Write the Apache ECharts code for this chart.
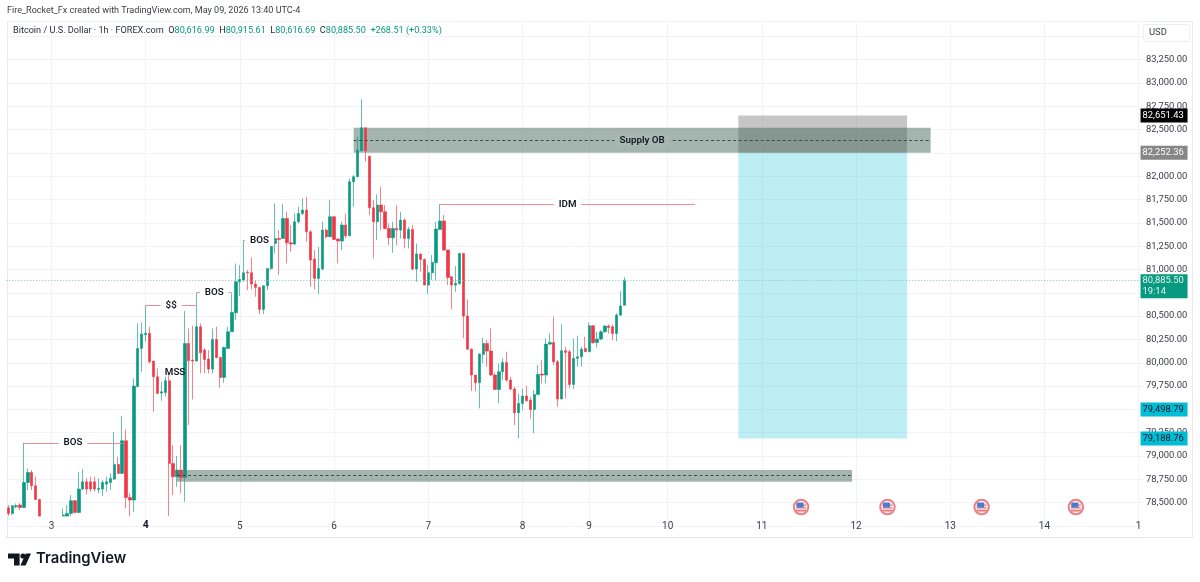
<!DOCTYPE html>
<html><head><meta charset="utf-8">
<style>html,body{margin:0;padding:0;background:#fff}#c{width:1200px;height:582px}</style>
<script src="https://cdn.jsdelivr.net/npm/echarts@6/dist/echarts.min.js"></script>
</head><body><div id="c"></div>
<script>
// [open, close, low, high], one row per hour; rows 9-13 sit below the visible pane
const candleValues = [
[78446,78385,78356,78474],[78385,78467,78367,78474],[78456,78467,78438,78492],[78474,78449,78421,78492],
[78449,78717,78449,79142],[78717,78824,78635,78867],[78824,78681,78635,78849],[78681,78535,78528,78778],
[78535,78356,78356,78535],['-','-','-','-'],['-','-','-','-'],['-','-','-','-'],['-','-','-','-'],['-','-','-','-'],
[78356,78367,78356,78438],[78356,78385,78356,78474],[78385,78521,78356,78581],[78521,78396,78385,78528],
[78396,78646,78385,78832],[78646,78724,78635,78860],[78724,78646,78589,78760],[78724,78646,78617,78778],
[78724,78646,78617,78778],[78642,78653,78599,78760],[78646,78717,78571,78742],[78699,78724,78617,78778],
[78717,78760,78635,78814],[78753,78910,78742,79260],[78910,78814,78814,78992],[78814,79164,78814,79428],
[79164,78556,78438,79285],[78556,78528,78356,78599],[78528,79750,78403,79832],[79743,80154,79743,80422],
[80154,80307,79904,80432],[80300,80315,80225,80618],[80315,80011,79993,80386],[80018,79850,79475,80018],
[79850,79671,79671,79939],[79675,79689,79593,79796],[79682,79807,79636,79850],[79807,78921,78356,79886],
[78921,78778,78581,79117],[78778,78849,78671,79000],[78849,78771,78599,79117],[78771,80207,78510,80554],
[80207,80022,79332,80368],[80029,80018,79607,80397],[80018,80386,80011,80754],[80386,80107,79886,80422],
[80136,80036,79886,80154],[80039,79932,79886,80136],[79932,80250,79886,80368],[80250,80057,80047,80386],
[80057,79843,79732,80064],[79843,80164,79786,80172],[80154,80332,80154,80386],[80332,80540,80332,80743],
[80536,80868,80457,81065],[80868,80893,80715,81047],[80886,80965,80868,81315],[80972,80965,80779,80993],
[80965,80843,80786,81129],[80843,80808,80708,80886],[80808,80572,80522,80815],[80572,80825,80522,80825],
[80825,81011,80779,81011],[81011,81279,80993,81333],[81279,81333,81172,81708],[81333,81322,80940,81422],
[81333,81547,81333,81701],[81547,81286,81065,81619],[81286,81272,81190,81476],[81272,81511,81261,81601],
[81511,81601,81494,81672],[81601,81637,81583,81762],[81637,81404,81297,81779],[81404,81101,80815,81422],
[81111,80904,80786,81208],[80904,81011,80736,81243],[81004,81422,80993,81511],[81422,81351,81333,81440],
[81351,81565,81351,81744],[81565,81322,81315,81572],[81326,81304,81065,81333],[81304,81476,81208,81511],
[81476,81361,81333,81601],[81361,81940,81361,81976],[81940,81994,81672,82012],[81994,82280,81987,82423],
[82273,82519,82273,82823],[82519,82273,82155,82519],[82215,81662,81583,82215],[81662,81511,81118,81744],
[81511,81690,81315,81805],[81690,81619,81422,81887],[81619,81440,81429,81690],[81440,81340,81261,81494],
[81340,81440,81179,81511],[81440,81422,81261,81690],[81422,81529,81333,81619],[81529,81333,81226,81547],
[81333,81429,81226,81458],[81429,81004,80993,81476],[81004,81165,80868,81279],[81165,81108,80976,81172],
[81108,80833,80833,81118],[80833,80965,80736,81047],[80965,81076,80886,81154],[81072,81433,80879,81511],
[81429,81519,81422,81701],[81519,81208,81201,81583],[81208,80915,80833,81208],[80922,80833,80572,80929],
[80833,80850,80761,81036],[80850,81172,80833,81179],[81172,80500,80261,81172],[80500,80146,80136,80679],
[80146,79868,79696,80154],[79868,79786,79696,79868],[79786,80093,79511,80100],[80089,80207,79993,80268],
[80207,80125,79957,80243],[80125,79868,79857,80368],[79868,79714,79707,79893],[79714,79904,79564,79993],
[79904,80004,79814,80047],[80004,79814,79796,80118],[79814,79718,79707,79850],[79718,79464,79332,79743],
[79464,79564,79189,79671],[79564,79643,79493,79725],[79643,79593,79582,79750],[79600,79500,79403,79636],
[79500,79661,79243,79707],[79661,79875,79654,79975],[79879,79868,79778,80029],[79868,80200,79778,80261],
[80200,80218,80189,80314],[80218,80011,79975,80493],[80011,79611,79528,80029],[79611,80129,79611,80411],
[80129,80111,79618,80172],[80118,79768,79725,80136],[79768,80047,79718,80261],[80047,80064,79957,80290],
[80064,80146,79957,80172],[80154,80118,80118,80279],[80118,80397,80118,80432],[80397,80214,80207,80404],
[80218,80254,80164,80332],[80254,80332,80243,80350],[80332,80393,80322,80404],[80393,80379,80314,80411],
[80386,80314,80243,80411],[80314,80511,80232,80529],[80511,80608,80500,80768],[80617,80885.5,80617,80916]
];
const hourCount = 290;
const dayTickIndex = [11,35,59,83,107,131,148,168,192,216,240,264,288];
const dayTickLabel = ['3','4','5','6','7','8','9','10','11','12','13','14','1'];
const priceTickLabel = [78500,78750,79000,79250,79500,79750,80000,80250,80500,80750,81000,81250,81500,81750,82000,82250,82500,82750,83000,83250];
// [start hour, end hour, price, label]
const labelledLevels = [[4,29,79142,'BOS'],[35,48,80618,'$$'],[48,57,80754,'BOS'],[60,68,81315,'BOS'],[110,175,81701,'IDM']];
const supplyZone = [88,235,82252,82520];
const supplyMid = [88,235,82387,'Supply OB'];
const demandZone = [43,215,78724,78849];
const demandMid = [43,215,78789];
const mssNote = [40,45,79896,'MSS'];
const positionBox = [186,229,82651.43,82252.36,79188.76];
const priceTags = [
 {v:82651.43,bg:'#000000',c:'#ffffff'},
 {v:82252.36,bg:'#868686',c:'#ffffff'},
 {v:79498.79,bg:'#00bcd4',c:'#131722'},
 {v:79188.76,bg:'#00bcd4',c:'#131722'}
];
const lastPrice = 80885.5, countdown = '19:14';
const eventHours = [202,224,248,272];
const eventPrice = 78453;

const UP='#089981', DOWN='#f23645', FONT='Roboto', LEVEL='#f08d94';
const money = v => v.toLocaleString('en-US',{minimumFractionDigits:2,maximumFractionDigits:2});
const categories = Array.from({length:hourCount},()=> '');
dayTickIndex.forEach((h,i)=>categories[h]=dayTickLabel[i]);
const isDay = i => categories[i] !== '';

const chart = echarts.init(document.getElementById('c'),null,{renderer:'canvas'});
const helper = (name,z,extra) => Object.assign({name,type:'line',data:[],z,silent:true,animation:false,symbol:'none'},extra);
const area = (a,b,c,d,color) => [{coord:[a,d],itemStyle:{color}},{coord:[b,c]}];

chart.setOption({
 animation:false,
 backgroundColor:'#ffffff',
 title:[
  {text:'Fire_Rocket_Fx created with TradingView.com, May 09, 2026 13:40 UTC-4',left:7,top:6,padding:0,textStyle:{fontFamily:FONT,fontSize:9.05,fontWeight:'normal',color:'#3a3d45'}},
  {text:'Bitcoin / U.S. Dollar · 1h · FOREX.com  {k|O}{v|80,616.99}  {k|H}{v|80,915.61}  {k|L}{v|80,616.69}  {k|C}{v|80,885.50}  {v|+268.51 (+0.33%)}',left:13,top:26,padding:0,
   textStyle:{fontFamily:FONT,fontSize:9.15,fontWeight:'normal',color:'#2a2e39',rich:{k:{fontFamily:FONT,fontSize:9.15,color:'#2a2e39'},v:{fontFamily:FONT,fontSize:9.15,color:'#089981'}}}}
 ],
 grid:{left:6.3,top:21,width:1138.25,height:505,containLabel:false},
 xAxis:{type:'category',data:categories,boundaryGap:true,offset:11,
  axisLine:{show:true,lineStyle:{color:'#e4e6ea',width:1}},axisTick:{show:false},
  axisLabel:{inside:true,margin:6,interval:(i)=>isDay(i),hideOverlap:false,fontFamily:FONT,fontSize:10,color:'#3a3d45',
   formatter:(v)=>v==='4'?'{b|4}':v,rich:{b:{fontFamily:FONT,fontSize:10.5,fontWeight:'bold',color:'#131722'}}},
  splitLine:{show:true,alignWithLabel:true,interval:(i)=>isDay(i),lineStyle:{color:'#f2f3f6',width:1}}},
 yAxis:{type:'value',position:'right',min:78250,max:83663.6,interval:250,scale:true,
  axisLine:{show:false},axisTick:{show:false},
  axisLabel:{margin:1.5,align:'left',fontFamily:FONT,fontSize:9.4,color:'#3a3d45',showMinLabel:true,showMaxLabel:true,
   formatter:(v)=>priceTickLabel.includes(v)?money(v):''},
  splitLine:{show:true,lineStyle:{color:'#f2f3f6',width:1}}},
 graphic:[
  {type:'rect',silent:true,z:-1,shape:{x:7.5,y:21.5,width:1185,height:516},style:{fill:'none',stroke:'#e8eaee',lineWidth:1}},
  {type:'rect',silent:true,z:10,shape:{x:1143.5,y:24.5,width:46,height:17,r:2},style:{fill:'#fff',stroke:'#eceef1',lineWidth:1}},
  {type:'text',silent:true,z:11,x:1149,y:28,style:{text:'USD',fontFamily:FONT,fontSize:9.4,fill:'#3a3d45'}},
  {type:'polygon',silent:true,shape:{points:[[8,553.5],[19.6,553.5],[19.6,565.5],[14,565.5],[14,558.6],[8,558.6]]},style:{fill:'#131722'}},
  {type:'circle',silent:true,shape:{cx:23,cy:556,r:2.6},style:{fill:'#131722'}},
  {type:'polygon',silent:true,shape:{points:[[25.8,553.5],[31,553.5],[25.6,565.5],[20.4,565.5]]},style:{fill:'#131722'}},
  {type:'text',silent:true,x:36,y:551,style:{text:'TradingView',fontFamily:'Inter',fontSize:14.8,fontWeight:600,fill:'#131722'}}
 ],
 series:[
  helper('positionBox',1,{markArea:{silent:true,data:[
    area(positionBox[0],positionBox[1],positionBox[4],positionBox[3],'rgba(0,188,212,0.26)')]}}),
  helper('stopBox',1.1,{markArea:{silent:true,data:[
    area(positionBox[0],positionBox[1],positionBox[3],positionBox[2],'rgba(120,120,120,0.42)')]}}),
  helper('zones',1.2,{markArea:{silent:true,data:[
    area(supplyZone[0],supplyZone[1],supplyZone[2],supplyZone[3],'rgba(62,98,88,0.47)'),
    area(demandZone[0],demandZone[1],demandZone[2],demandZone[3],'rgba(62,98,88,0.47)')]}}),
  {name:'BTCUSD',type:'candlestick',z:3,data:candleValues,barWidth:2.8,silent:true,clip:true,
   itemStyle:{color:UP,color0:DOWN,borderColor:'rgba(8,153,129,0.62)',borderColor0:'rgba(242,54,69,0.62)',borderWidth:1}},
  helper('levels',4,{markLine:{silent:true,symbol:'none',animation:false,
    lineStyle:{type:'solid',color:LEVEL,width:1},
    label:{position:'middle',distance:0,verticalAlign:'middle',fontFamily:FONT,fontSize:9.8,fontWeight:600,color:'#131722',backgroundColor:'#ffffff',padding:[1,5]},
    data:labelledLevels.map(l=>[{coord:[l[0],l[2]],lineStyle:{type:'solid',color:LEVEL,width:1},label:{formatter:l[3]}},{coord:[l[1],l[2]]}]).concat([
     [{coord:[mssNote[0],mssNote[2]],lineStyle:{color:'transparent',width:0},label:{formatter:mssNote[3],backgroundColor:'transparent',padding:0}},{coord:[mssNote[1],mssNote[2]]}],
     [{coord:[supplyMid[0],supplyMid[2]],lineStyle:{type:[3,2.5],color:'#3c4c4a',width:1},label:{formatter:supplyMid[3],backgroundColor:'#a7b7b2'}},{coord:[supplyMid[1],supplyMid[2]]}],
     [{coord:[demandMid[0],demandMid[2]],lineStyle:{type:[3,2.5],color:'#3c4c4a',width:1},label:{show:false}},{coord:[demandMid[1],demandMid[2]]}]
    ])}}),
  helper('lastLine',2,{markLine:{silent:true,symbol:'none',animation:false,
    data:[{yAxis:lastPrice,lineStyle:{type:[1,2],color:'#7fc9bb',width:1},
      label:{position:'end',distance:-4,align:'left',verticalAlign:'middle',width:42,padding:[1,3,1,2],lineHeight:11,offset:[0,6],backgroundColor:UP,color:'#e4f5f1',fontFamily:FONT,fontSize:9.4,
      formatter:money(lastPrice)+'\n'+countdown}}]}}),
  helper('tags',6,{markLine:{silent:true,symbol:'none',animation:false,lineStyle:{color:'transparent',width:0},
    data:priceTags.map(t=>({yAxis:t.v,label:{position:'end',distance:-4,align:'left',verticalAlign:'middle',width:42,padding:[2,3,2,2],lineHeight:10,backgroundColor:t.bg,color:t.c,fontFamily:FONT,fontSize:9.4,formatter:money(t.v)}}))}}),
  {name:'eventRing',type:'scatter',z:5,silent:true,data:eventHours.map(h=>[h,eventPrice]),symbol:'circle',symbolSize:14.5,itemStyle:{color:'#fdf1f1',borderColor:'#ea8088',borderWidth:2,opacity:1}},
  {name:'eventStripes',type:'scatter',z:5.1,silent:true,data:eventHours.map(h=>[h,eventPrice]),symbol:'path://M0 0H10V1.4H0ZM0 3H10V4.4H0ZM0 6H10V8H0Z',symbolSize:[10,7],symbolOffset:[0,1],itemStyle:{color:'#e8757d',opacity:1}},
  {name:'eventCanton',type:'scatter',z:5.2,silent:true,data:eventHours.map(h=>[h,eventPrice]),symbol:'rect',symbolSize:[7,5],symbolOffset:[-1,-2],itemStyle:{color:'#4a7bd0',opacity:1}}
 ]
});
</script></body></html>
